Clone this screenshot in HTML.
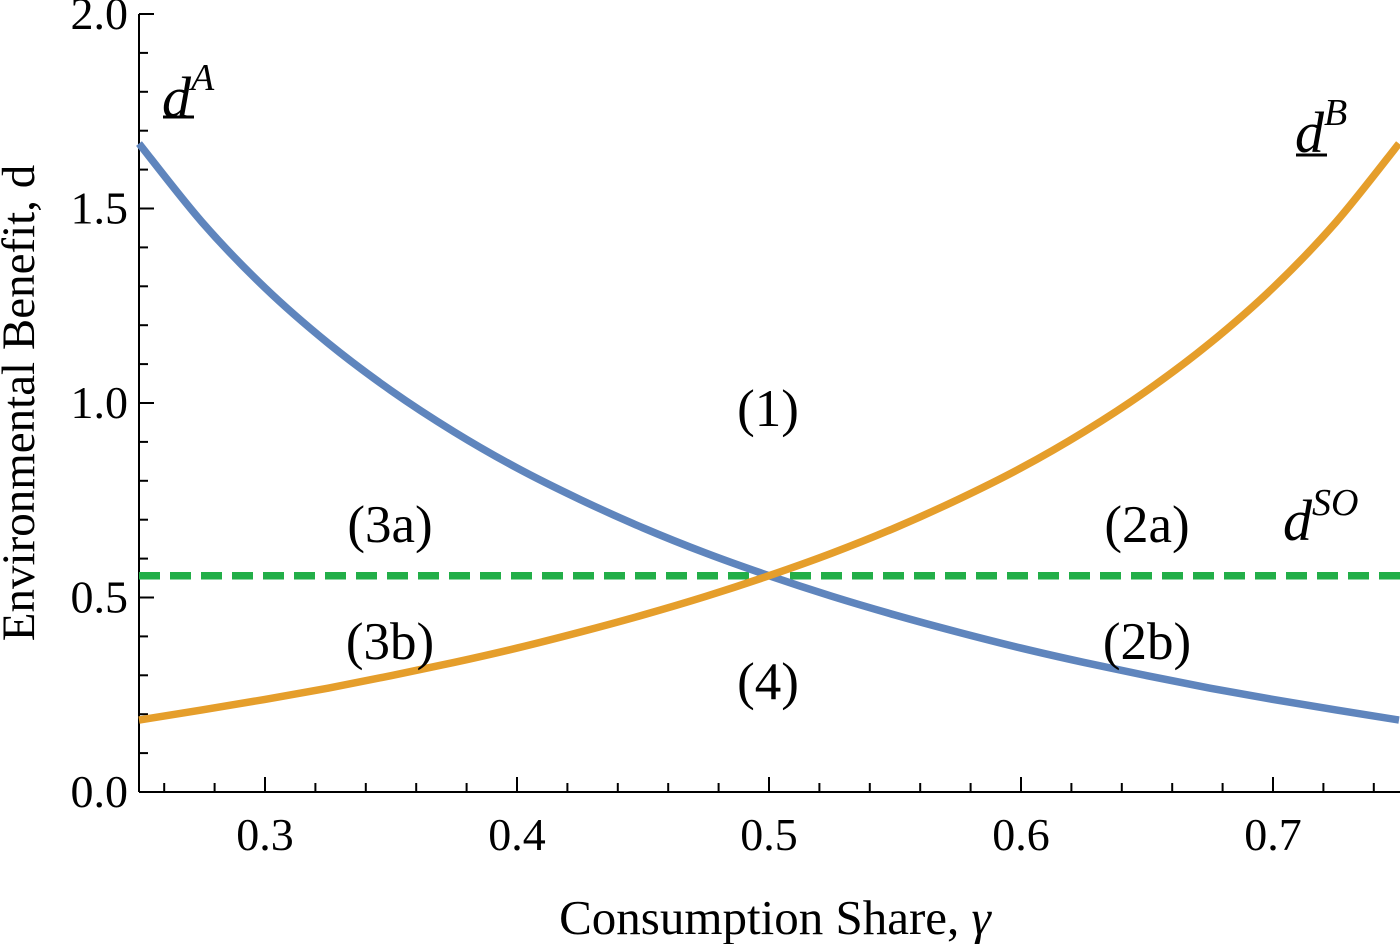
<!DOCTYPE html>
<html><head><meta charset="utf-8"><style>
html,body{margin:0;padding:0;background:#fff;}
svg{display:block;font-family:"Liberation Serif",serif;}
</style></head><body>
<svg id="chart" width="1400" height="944" viewBox="0 0 1400 944" xmlns="http://www.w3.org/2000/svg">
<g id="grid"></g>
<g id="series"></g>
<g id="labels">
  <text transform="translate(34,403) rotate(-90)" text-anchor="middle" font-size="47">Environmental Benefit, d</text>
  <text x="775" y="934" text-anchor="middle" font-size="49">Consumption Share, <tspan font-style="italic">γ</tspan></text>
  <text x="162" y="117" font-size="58" font-style="italic">d<tspan font-size="38" dy="-27">A</tspan></text>
  <line x1="163" y1="117" x2="194" y2="117" stroke="#000" stroke-width="3"/>
  <text x="1295" y="152" font-size="58" font-style="italic">d<tspan font-size="38" dy="-27">B</tspan></text>
  <line x1="1296" y1="155" x2="1327" y2="155" stroke="#000" stroke-width="3"/>
  <text x="1283" y="540" font-size="58" font-style="italic">d<tspan font-size="38" dy="-25">SO</tspan></text>
  <text x="768" y="426" text-anchor="middle" font-size="53">(1)</text>
  <text x="390" y="542" text-anchor="middle" font-size="53">(3a)</text>
  <text x="1147" y="542" text-anchor="middle" font-size="53">(2a)</text>
  <text x="390" y="659" text-anchor="middle" font-size="53">(3b)</text>
  <text x="1147" y="659" text-anchor="middle" font-size="53">(2b)</text>
  <text x="768" y="699" text-anchor="middle" font-size="53">(4)</text>
</g>
</svg>
<script>
const gammaVals=[0.25,0.275,0.3,0.325,0.35,0.375,0.4,0.425,0.45,0.475,0.5,0.525,0.55,0.575,0.6,0.625,0.65,0.675,0.7,0.725,0.75];
const dAVals=[1.667,1.465,1.296,1.154,1.032,0.926,0.833,0.752,0.679,0.614,0.556,0.503,0.455,0.411,0.370,0.333,0.299,0.267,0.238,0.211,0.185];
const dBVals=[0.185,0.211,0.238,0.267,0.299,0.333,0.370,0.411,0.455,0.503,0.556,0.614,0.679,0.752,0.833,0.926,1.032,1.154,1.296,1.465,1.667];
const dSOVal=[0.556];
const xTickLabels=["0.3","0.4","0.5","0.6","0.7"];
const yTickLabels=["0.0","0.5","1.0","1.5","2.0"];

const X0=139,X1=1399,Y0=792,Y1=14;
const xs=g=>X0+(g-0.25)/0.5*(X1-X0);
const ys=v=>Y0-v/2*(Y0-Y1);
const NS="http://www.w3.org/2000/svg";
function mk(tag,attrs,parent){const e=document.createElementNS(NS,tag);for(const k in attrs)e.setAttribute(k,attrs[k]);parent.appendChild(e);return e;}
const grid=document.getElementById('grid'),series=document.getElementById('series');

let l=mk('line',{x1:X0,y1:Y0,x2:1400,y2:Y0,stroke:'#000','stroke-width':2},grid);


l=mk('line',{x1:X0,y1:Y0,x2:X0,y2:Y1,stroke:'#000','stroke-width':2},grid);



for(let i=13;i<=37;i++){const g=i*0.02;const major=(i%5===0);const x=xs(g);
 const t=mk('line',{x1:x,y1:Y0,x2:x,y2:Y0-(major?15:9),stroke:'#000','stroke-width':2},grid);
 
 }
xTickLabels.forEach(s=>{const t=mk('text',{x:xs(parseFloat(s)),y:850,'text-anchor':'middle','font-size':46},grid);t.textContent=s;
 
 });
for(let i=0;i<=20;i++){const v=i*0.1;const major=i%5===0;const y=ys(v);
 const t=mk('line',{x1:X0,y1:y,x2:X0+(major?15:9),y2:y,stroke:'#000','stroke-width':2},grid);
 
 }
yTickLabels.forEach(s=>{const t=mk('text',{x:128,y:ys(parseFloat(s))+15,'text-anchor':'end','font-size':46},grid);t.textContent=s;
 
 });

function smoothPath(vals){const p=gammaVals.map((g,i)=>[xs(g),ys(vals[i])]);let d='M'+p[0][0]+','+p[0][1];
 for(let i=0;i<p.length-1;i++){const a=p[i-1]||p[i],b=p[i],c=p[i+1],e=p[i+2]||c;
  d+=' C'+(b[0]+(c[0]-a[0])/6)+','+(b[1]+(c[1]-a[1])/6)+' '+(c[0]-(e[0]-b[0])/6)+','+(c[1]-(e[1]-b[1])/6)+' '+c[0]+','+c[1];}
 return d;}
let so=mk('line',{x1:X0,y1:ys(dSOVal[0]),x2:1400,y2:ys(dSOVal[0]),stroke:'#22ae48','stroke-width':7.5,'stroke-dasharray':'21,10'},series);


let pa=mk('path',{d:smoothPath(dAVals),fill:'none',stroke:'#5f85bd','stroke-width':7.5},series);


let pb=mk('path',{d:smoothPath(dBVals),fill:'none',stroke:'#e59e2b','stroke-width':7.5},series);


</script>
</body></html>
